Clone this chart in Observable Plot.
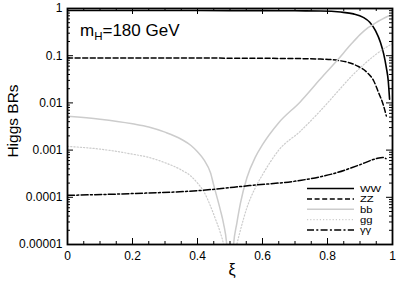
<!DOCTYPE html>
<html><head><meta charset="utf-8">
<script src="https://cdn.jsdelivr.net/npm/d3@7"></script>
<script src="https://cdn.jsdelivr.net/npm/@observablehq/plot@0.6"></script>
<style>
body{margin:0;background:#fff;}
#wrap{position:relative;width:399px;height:285px;font-family:"Liberation Sans",Arial,Helvetica,sans-serif;color:#000;}
.abs{position:absolute;white-space:nowrap;line-height:1;}
</style></head><body><div id="wrap"></div>
<script>
// ---- data ----
const xiWW = [0, 0.2, 0.4, 0.6, 0.7, 0.78, 0.84, 0.88, 0.91, 0.93, 0.948, 0.963, 0.973, 0.981, 0.987, 0.991];
const brWW = [0.91, 0.91, 0.905, 0.9, 0.895, 0.885, 0.84, 0.77, 0.65, 0.51, 0.334, 0.19, 0.108, 0.056, 0.029, 0.012];

const xiZZ = [0, 0.2, 0.4, 0.6, 0.7, 0.778, 0.84, 0.891, 0.922, 0.942, 0.957, 0.971, 0.981];
const brZZ = [0.089, 0.089, 0.089, 0.088, 0.087, 0.085, 0.078, 0.061, 0.044, 0.0295, 0.0166, 0.0094, 0.0053];

const xiBB = [0, 0.1, 0.2, 0.25, 0.3, 0.35, 0.38, 0.4, 0.42, 0.44, 0.45, 0.47, 0.48, 0.49, 0.496, 0.501, 0.506, 0.511, 0.521, 0.532, 0.552, 0.578, 0.6, 0.65, 0.716, 0.778, 0.83, 0.871, 0.9, 0.922, 0.937, 0.955, 0.973, 0.99, 1];
const brBB = [0.0052, 0.0045, 0.0036, 0.0031, 0.0024, 0.0017, 0.00125, 0.00092, 0.00062, 0.00033, 0.00018, 0.000055, 0.000028, 0.00001, 0.0000025, 1e-9, 0.000003, 0.00001, 0.000028, 0.000074, 0.00026, 0.00071, 0.0013, 0.0038, 0.0105, 0.032, 0.08, 0.17, 0.28, 0.38, 0.44, 0.53, 0.62, 0.7, 0.72];

const xiGG = [0, 0.1, 0.2, 0.25, 0.3, 0.35, 0.38, 0.4, 0.42, 0.44, 0.455, 0.47, 0.48, 0.49, 0.501, 0.51, 0.521, 0.532, 0.552, 0.578, 0.6, 0.65, 0.716, 0.778, 0.83, 0.871, 0.922, 0.973, 1];
const brGG = [0.0012, 0.00105, 0.00082, 0.0007, 0.00054, 0.00038, 0.00028, 0.0002, 0.00013, 0.000065, 0.000035, 0.000018, 0.00001, 0.000003, 1e-10, 0.000004, 0.00001, 0.00002, 0.00006, 0.00016, 0.0003, 0.001, 0.0025, 0.0068, 0.017, 0.035, 0.075, 0.14, 0.18];

const xiAA = [0, 0.2, 0.4, 0.56, 0.72, 0.82, 0.9, 0.95, 0.97, 0.98];
const brAA = [0.00011, 0.00012, 0.000138, 0.000177, 0.00023, 0.00032, 0.00049, 0.00066, 0.0007, 0.00066];

const seriesNames = ["WW", "ZZ", "bb", "gg", "γγ"];
const xTicks = [0, 0.2, 0.4, 0.6, 0.8, 1];
const xTickLabels = ["0", "0.2", "0.4", "0.6", "0.8", "1"];
const xMinor = [0.05, 0.1, 0.15, 0.25, 0.3, 0.35, 0.45, 0.5, 0.55, 0.65, 0.7, 0.75, 0.85, 0.9, 0.95];
const yTicks = [1e-5, 1e-4, 1e-3, 1e-2, 1e-1, 1];
const yTickLabels = ["0.00001", "0.0001", "0.001", "0.01", "0.1", "1"];
const yMinorMult = [2, 3, 4, 5, 6, 7, 8, 9];
const yLabel = "Higgs BRs";
const xLabel = "ξ";
const massLabel = ["m", "H", "=180 GeV"];

// ---- build ----
const toRows = (xs, ys) => xs.map((x, i) => ({xi: x, br: ys[i]}));
const data = [toRows(xiWW, brWW), toRows(xiZZ, brZZ), toRows(xiBB, brBB), toRows(xiGG, brGG), toRows(xiAA, brAA)];
const styles = [
  {stroke: "#000", strokeWidth: 1.6, dash: null},
  {stroke: "#000", strokeWidth: 1.5, dash: "5,2.6"},
  {stroke: "#cccccc", strokeWidth: 1.5, dash: null},
  {stroke: "#cccccc", strokeWidth: 1.2, dash: "1.2,2"},
  {stroke: "#000", strokeWidth: 1.5, dash: "7,2.3,2,2.3"}
];
const yMinor = yTicks.slice(0, -1).flatMap(d => yMinorMult.map(m => d * m));

const W = 399, H = 285, mL = 67, mR = 7, mT = 8, mB = 41;
const ph = H - mT - mB, pw = W - mL - mR;

const lineMarks = data.map((rows, i) => Plot.line(rows, {
  x: "xi", y: "br", stroke: styles[i].stroke, strokeWidth: styles[i].strokeWidth,
  strokeDasharray: styles[i].dash, curve: "monotone-x", clip: true
}));

const chart = Plot.plot({
  width: W, height: H, marginLeft: mL, marginRight: mR, marginTop: mT, marginBottom: mB,
  x: {domain: [0, 1]},
  y: {type: "log", domain: [1e-5, 1]},
  style: {fontFamily: '"Liberation Sans", Arial, Helvetica, sans-serif', fontSize: "12px", color: "#000", background: "#fff"},
  marks: [
    ...lineMarks,
    // inward ticks on all four sides
    Plot.tickX(xTicks, {x: d => d, insetTop: ph - 6, stroke: "#000", strokeWidth: 1}),
    Plot.tickX(xMinor, {x: d => d, insetTop: ph - 3, stroke: "#000", strokeWidth: 1}),
    Plot.tickX(xTicks, {x: d => d, insetBottom: ph - 6, stroke: "#000", strokeWidth: 1}),
    Plot.tickX(xMinor, {x: d => d, insetBottom: ph - 3, stroke: "#000", strokeWidth: 1}),
    Plot.tickY(yTicks, {y: d => d, insetRight: pw - 6, stroke: "#000", strokeWidth: 1}),
    Plot.tickY(yMinor, {y: d => d, insetRight: pw - 3, stroke: "#000", strokeWidth: 1}),
    Plot.tickY(yTicks, {y: d => d, insetLeft: pw - 6, stroke: "#000", strokeWidth: 1}),
    Plot.tickY(yMinor, {y: d => d, insetLeft: pw - 3, stroke: "#000", strokeWidth: 1}),
    Plot.axisX(xTicks, {tickSize: 0, tickPadding: 7, label: null, fontSize: 12,
      tickFormat: d => xTickLabels[xTicks.indexOf(d)]}),
    Plot.axisY(yTicks, {tickSize: 0, tickPadding: 5, label: null, fontSize: 12,
      tickFormat: d => yTickLabels[yTicks.indexOf(d)]}),
    Plot.frame({stroke: "#000", strokeWidth: 1.8})
  ]
});

const wrap = document.getElementById("wrap");
wrap.appendChild(chart);

// axis labels
const yl = document.createElement("div");
yl.className = "abs";
yl.textContent = yLabel;
yl.style.cssText += "font-size:15.5px;left:13px;top:121px;transform:translate(-50%,-50%) rotate(-90deg);";
wrap.appendChild(yl);

const xl = document.createElement("div");
xl.className = "abs";
xl.textContent = xLabel;
xl.style.cssText += "font-size:16px;left:232px;top:270px;transform:translate(-50%,-50%);";
wrap.appendChild(xl);

// annotation
const ml = document.createElement("div");
ml.className = "abs";
ml.style.cssText += "font-size:17px;left:80px;top:22px;";
ml.innerHTML = `${massLabel[0]}<span style="font-size:11.5px;position:relative;top:4px;">${massLabel[1]}</span>${massLabel[2]}`;
wrap.appendChild(ml);

// legend
const lg = document.createElementNS("http://www.w3.org/2000/svg", "svg");
lg.setAttribute("width", 90); lg.setAttribute("height", 55);
lg.style.cssText = "position:absolute;left:305px;top:183px;overflow:visible;";
seriesNames.forEach((name, i) => {
  const cy = 5.5 + i * 10.4;
  const ln = document.createElementNS("http://www.w3.org/2000/svg", "line");
  ln.setAttribute("x1", 2); ln.setAttribute("x2", 49);
  ln.setAttribute("y1", cy); ln.setAttribute("y2", cy);
  ln.setAttribute("stroke", styles[i].stroke);
  ln.setAttribute("stroke-width", styles[i].strokeWidth);
  if (styles[i].dash) ln.setAttribute("stroke-dasharray", styles[i].dash);
  lg.appendChild(ln);
  const tx = document.createElementNS("http://www.w3.org/2000/svg", "text");
  tx.setAttribute("x", 0); tx.setAttribute("y", 0);
  tx.setAttribute("dy", "0.36em");
  tx.setAttribute("font-size", "9");
  tx.setAttribute("transform", `translate(55,${cy}) scale(1.25,1)`);
  tx.setAttribute("font-family", '"Liberation Sans", Arial, sans-serif');
  tx.textContent = name;
  lg.appendChild(tx);
});
wrap.appendChild(lg);
</script>
</body></html>
